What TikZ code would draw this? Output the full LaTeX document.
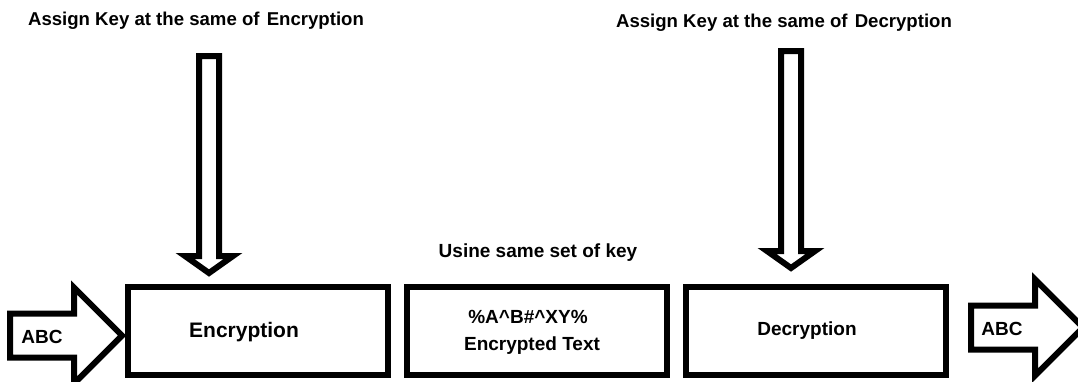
\documentclass[tikz,border=0pt]{standalone}
\usepackage{fontspec}
\setmainfont{Liberation Sans}
\usetikzlibrary{positioning}

\begin{document}
\begin{tikzpicture}[x=1pt,y=-1pt,node distance=13pt,
  every node/.style={font=\bfseries\fontsize{19}{22}\selectfont},
  keybox/.style={draw,line width=6pt,minimum width=260pt,minimum height=88pt,inner sep=0pt},
  hollow/.style={draw,line width=6pt,fill=white,line join=miter},
  lbl/.style={anchor=base,inner sep=0pt},
  title/.style={lbl,font=\bfseries\fontsize{18.6}{22}\selectfont}]
\useasboundingbox (0,0) rectangle (1078,381);
\node[keybox] (enc) at (258,331) {};
\node[keybox,right=of enc] (mid) {};
\node[keybox,right=of mid] (dec) {};
\coordinate (kEnc) at (209,56);
\coordinate (kDec) at (791,51);
\coordinate (inL) at (10,335.5);
\coordinate (outR) at (971,327.5);
% key arrows
\foreach \k in {kEnc,kDec}
  \draw[hollow] (\k) ++(-10,0) -- ++(20,0) -- ++(0,200) -- ++(14,0) -- ++(-24,17) -- ++(-24,-17) -- ++(14,0) -- cycle;
% plain text in and out
\foreach \k in {inL,outR}
  \draw[hollow] (\k) ++(0,-22) -- ++(64,0) -- ++(0,-26) -- ++(48,48) -- ++(-48,48) -- ++(0,-26) -- ++(-64,0) -- cycle;
\node[title] (titleEnc) at (196,25) {Assign Key at the same of\kern2pt{} Encryption};
\node[title] (titleDec) at (784,27) {Assign Key at the same of\kern2pt{} Decryption};
\node[lbl] (note) at (538,257) {Usine same set of key};
\node[lbl] (encTxt) at (244,337) {\fontsize{21}{24}\selectfont Encryption};
\node[lbl] (cipher) at (528,323) {\%A\^{}B\#\^{}XY\%};
\node[lbl] (cipherTxt) at (532,350) {Encrypted Text};
\node[lbl] (decTxt) at (807,335) {Decryption};
\node[lbl] (abcIn) at (42,343) {ABC};
\node[lbl] (abcOut) at (1002,335) {ABC};
\end{tikzpicture}
\end{document}
